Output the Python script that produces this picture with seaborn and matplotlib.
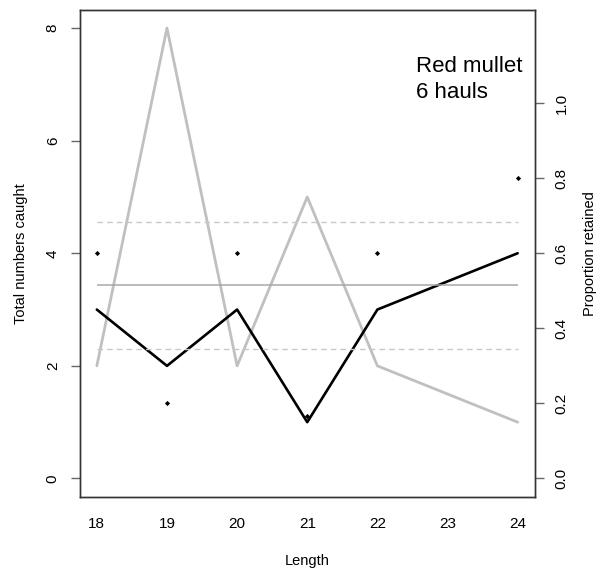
import numpy as np
import pandas as pd
import matplotlib
matplotlib.use("Agg")
import matplotlib.pyplot as plt
import seaborn as sns

# Catch at length, Red mullet (6 hauls)
lengths = [18, 19, 20, 21, 22, 24]
codend_counts = [3, 2, 3, 1, 3, 4]   # black line
cover_counts = [2, 8, 2, 5, 2, 1]    # grey line
prop_retained = [c / (c + v) for c, v in zip(codend_counts, cover_counts)]

# Overall retention and its band
overall_prop = 0.515
band_low = 0.345
band_high = 0.684

x_ticks = [18, 19, 20, 21, 22, 23, 24]
left_ticks = [0, 2, 4, 6, 8]
right_ticks = [0.0, 0.2, 0.4, 0.6, 0.8, 1.0]

df = pd.DataFrame({
    "Length": lengths,
    "codend": codend_counts,
    "cover": cover_counts,
    "prop": prop_retained,
})

sns.set_style("white")
plt.rcParams["font.family"] = ["Liberation Sans", "DejaVu Sans"]
plt.rcParams["text.color"] = "black"
plt.rcParams["axes.labelcolor"] = "black"
plt.rcParams["xtick.color"] = "black"
plt.rcParams["ytick.color"] = "black"

W, H = 602, 571
fig = plt.figure(figsize=(W / 100, H / 100), dpi=100)
ax = fig.add_axes([80 / W, 1 - 496.5 / H, (534.5 - 80) / W, (496.5 - 10) / H])

sns.lineplot(data=df, x="Length", y="cover", color="#c0c0c0", linewidth=2.0, ax=ax)
sns.lineplot(data=df, x="Length", y="codend", color="black", linewidth=1.9, ax=ax)

ax.set_xlim(17.76, 24.24)
ax.set_ylim(-0.32, 8.32)
ax.set_xticks(x_ticks)
ax.set_yticks(left_ticks)
ax.set_xticklabels([str(v) for v in x_ticks])
ax.set_yticklabels([str(v) for v in left_ticks], rotation=90, va="center")
ax.set_xlabel("Length", fontsize=10.5, labelpad=17)
ax.set_ylabel("Total numbers caught", fontsize=10.5, labelpad=13)

ax2 = ax.twinx()
ax2.set_ylim(-0.32 * 3 / 20, 8.32 * 3 / 20)
x0, x1 = min(lengths), max(lengths)
ax2.hlines(overall_prop, x0, x1, color="#a8a8a8", linewidth=1.1)
ax2.hlines([band_low, band_high], x0, x1, color="#c8c8c8", linewidth=1.0,
           linestyles=[(0, (4, 3))])
ax2.set_xlim(17.76, 24.24)
sns.scatterplot(data=df, x="Length", y="prop", color="black", s=7, marker="D",
                edgecolor="black", linewidth=0, ax=ax2, zorder=5)
ax2.set_yticks(right_ticks)
ax2.set_yticklabels([f"{v:.1f}" for v in right_ticks], rotation=90, va="center")
ax2.set_ylabel("Proportion retained", fontsize=10.5, labelpad=10)

for a in (ax, ax2):
    a.tick_params(axis="both", which="both", direction="out", length=6.5, width=1,
                  color="#666666", labelcolor="black", labelsize=11, pad=8)
    for s in a.spines.values():
        s.set_color("#333333")
        s.set_linewidth(1.0)

fig.text(416 / W, 1 - 72 / H, "Red mullet", fontsize=16, ha="left", va="baseline")
fig.text(416 / W, 1 - 98 / H, "6 hauls", fontsize=16, ha="left", va="baseline")

fig.savefig("out.png", dpi=100)
